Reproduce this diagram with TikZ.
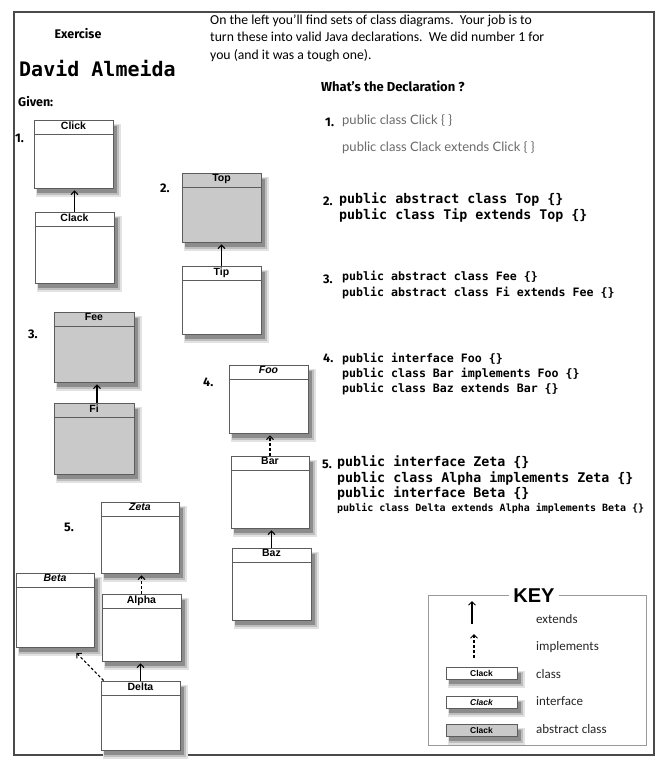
\documentclass[tikz,border=0pt]{standalone}
\usepackage{fontspec}
\setmainfont{Liberation Sans}
\newfontfamily\introfont{Carlito}
\newfontfamily\handfont{Fira Sans}
\newfontfamily\codefont{DejaVu Sans Mono}
\newfontfamily\grayfont{Lato}
\usetikzlibrary{arrows.meta}
\definecolor{framegray}{HTML}{4A4A4A}
\definecolor{boxgray}{HTML}{5C5C5C}
\definecolor{absfill}{HTML}{C9C9C9}
\definecolor{keygray}{HTML}{9A9A9A}
\definecolor{penGray}{HTML}{6A6A6A}
\definecolor{shadeA}{HTML}{E2E2E2}
\definecolor{shadeB}{HTML}{BEBEBE}
\definecolor{shadeC}{HTML}{8C8C8C}
\tikzset{
  shd/.style={draw=none, rectangle, inner sep=0pt, outer sep=0pt},
  cls/.style={draw=boxgray, line width=0.8pt, fill=white, rectangle, inner sep=0pt,
    path picture={\draw[boxgray, line width=0.6pt]
      ([yshift=-14.5pt]path picture bounding box.north west) --
      ([yshift=-14.5pt]path picture bounding box.north east);}},
  abs/.style={cls, fill=absfill},
  ttl/.style={label={[anchor=north, inner sep=0pt, yshift=-1.8pt, font=\fontsize{10.5}{12}\selectfont\bfseries]north:#1}},
  ittl/.style={label={[anchor=north, inner sep=0pt, yshift=-1.8pt, font=\fontsize{10.5}{12}\selectfont\bfseries\itshape]north:#1}},
  ext/.style={line width=1.2pt, -{Straight Barb[length=3.5pt,width=7pt,line width=1pt]}, shorten >=2pt},
  impl/.style={line width=1.1pt, dash pattern=on 2.8pt off 2.2pt, -{Straight Barb[length=3.5pt,width=7pt,line width=1pt]}, shorten >=2pt},
  num/.style={font=\handfont\bfseries\fontsize{12.5}{14}\selectfont, inner sep=0pt, anchor=west},
  code/.style={font=\codefont\bfseries\fontsize{13.3}{15}\selectfont, inner sep=0pt, anchor=west},
  codes/.style={font=\codefont\bfseries\fontsize{11.6}{13}\selectfont, inner sep=0pt, anchor=west},
  pen/.style={font=\grayfont\fontsize{13}{15}\selectfont, text=penGray, inner sep=0pt, anchor=west},
  intro/.style={font=\introfont\fontsize{13.7}{17.5}\selectfont, inner sep=0pt, anchor=north west, align=left},
  keytxt/.style={font=\introfont\fontsize{13}{15}\selectfont, text=black!85, inner sep=0pt, anchor=west},
  keybox/.style={draw=boxgray, line width=0.7pt, fill=white, rectangle, inner sep=0pt,
    font=\fontsize{8.5}{9}\selectfont\bfseries}
}
% #1 style, #2 name, #3 x, #4 y (centre, y down), #5 width, #6 height, #7 text
\newcommand\umlbox[7]{%
  \node[shd, fill=shadeA, minimum width=#5pt+5.5pt, minimum height=#6pt+4.5pt] (#2s1) at (#3+4.75,#4+6.25) {};
  \node[shd, fill=shadeB, minimum width=#5pt+3pt, minimum height=#6pt+1.5pt] (#2s2) at (#3+4,#4+5.75) {};
  \node[shd, fill=shadeC, minimum width=#5pt+0.5pt, minimum height=#6pt-1.5pt] (#2s3) at (#3+3.25,#4+5.25) {};
  \node[#1, minimum width=#5pt, minimum height=#6pt] (#2) at (#3,#4) {#7};
}
\begin{document}
\begin{tikzpicture}[x=1pt,y=-1pt]
\useasboundingbox (0,0) rectangle (668,763);
\fill[white] (0,0) rectangle (668,763);
% outer frame
\draw[framegray, line width=1.3pt] (14,12) rectangle (654,755);

% headings
\node[font=\handfont\bfseries\fontsize{12.5}{14}\selectfont, inner sep=0pt] (exercise) at (78,34) {Exercise};
\node[font=\codefont\bfseries\fontsize{20}{22}\selectfont, inner sep=0pt, anchor=west] (name) at (19,69) {David Almeida};
\node[font=\handfont\bfseries\fontsize{12.5}{14}\selectfont, inner sep=0pt, anchor=west] (given) at (18,102) {Given:};
\node[intro] (introtxt) at (210,14.5) {On the left you’ll find sets of class diagrams.\ \ Your job is to\\turn these into valid Java declarations.\ \ We did number 1 for\\you (and it was a tough one).};
\node[font=\handfont\bfseries\fontsize{13}{15}\selectfont, inner sep=0pt, anchor=west] (what) at (321,86) {What’s the Declaration ?};

% diagram numbers
\node[num] (n1) at (15,138) {1.};
\node[num] (n2) at (160,188) {2.};
\node[num] (n3) at (28,334) {3.};
\node[num] (n4) at (203,382) {4.};
\node[num] (n5) at (64,527) {5.};

% class boxes
\umlbox{cls, ttl=Click}{click}{73.5}{154}{79}{68}{}
\umlbox{cls, ttl=Clack}{clack}{74.5}{247.5}{79}{71}{}
\umlbox{abs, ttl=Top}{top}{221.5}{207.5}{79}{69}{}
\umlbox{cls, ttl=Tip}{tip}{221.5}{300}{79}{68}{}
\umlbox{abs, ttl=Fee}{fee}{94}{347}{80}{70}{}
\umlbox{abs, ttl=Fi}{fi}{94}{438.5}{80}{71}{}
\umlbox{cls, ittl=Foo}{foo}{268.5}{399}{79}{68}{}
\umlbox{cls, ttl=Bar}{bar}{270}{492}{78}{72}{}
\umlbox{cls, ttl=Baz}{baz}{271.5}{584}{79}{72}{}
\umlbox{cls, ittl=Zeta}{zeta}{140}{537.5}{78}{71}{}
\umlbox{cls, ittl=Beta}{beta}{55}{610}{78}{74}{}
\umlbox{cls, ttl=Alpha}{alpha}{141.5}{627.5}{79}{67}{}
\umlbox{cls, ttl=Delta}{delta}{140.5}{715.5}{79}{69}{}

% connectors
\draw[ext] (clack.north) -- (clack.north |- click.south);
\draw[ext] (tip.north) -- (tip.north |- top.south);
\draw[ext] ([xshift=3pt]fi.north) -- ([xshift=3pt]fi.north |- fee.south);
\draw[impl] (bar.north) -- (bar.north |- foo.south);
\draw[ext] (baz.north) -- (baz.north |- bar.south);
\draw[impl] (alpha.north) -- (alpha.north |- zeta.south);
\draw[ext] (delta.north) -- (delta.north |- alpha.south);
\draw[impl] ([xshift=3pt]delta.north west) -- ([xshift=20pt,yshift=-4pt]beta.south);

% declarations
\node[num] (d1) at (325,122) {1.};
\node[pen] (p1) at (342,121) {public class Click \{ \}};
\node[pen] (p2) at (342,148) {public class Clack extends Click \{ \}};

\node[num] (d2) at (323,201) {2.};
\node[code] (c21) at (339,199) {public abstract class Top \{\}};
\node[code] (c22) at (339,215) {public class Tip extends Top \{\}};

\node[num] (d3) at (323,279) {3.};
\node[codes] (c31) at (342,277) {public abstract class Fee \{\}};
\node[codes] (c32) at (342,293) {public abstract class Fi extends Fee \{\}};

\node[num] (d4) at (323,358) {4.};
\node[codes] (c41) at (342,359) {public interface Foo \{\}};
\node[codes] (c42) at (342,374) {public class Bar implements Foo \{\}};
\node[codes] (c43) at (342,389) {public class Baz extends Bar \{\}};

\node[num] (d5) at (322,464) {5.};
\node[code] (c51) at (337,462) {public interface Zeta \{\}};
\node[code] (c52) at (337,478) {public class Alpha implements Zeta \{\}};
\node[code] (c53) at (337,493) {public interface Beta \{\}};
\node[code, font=\codefont\bfseries\fontsize{10}{12}\selectfont] (c54) at (337,508) {public class Delta extends Alpha implements Beta \{\}};

% key
\node[font=\bfseries\fontsize{20}{22}\selectfont, inner sep=0pt] (key) at (534,596) {KEY};
\draw[keygray, line width=1pt] ([xshift=-4pt]key.west |- 0,595) -- (428,595) -- (428,745) -- (646,745) -- (646,595) -- ([xshift=4pt]key.east |- 0,595);
\coordinate (e1) at (472,624);
\coordinate (e2) at (472,601);
\draw[line width=1.2pt, -{Straight Barb[length=3.5pt,width=7pt,line width=1pt]}] (e1) -- (e2);
\coordinate (i1) at (474,658);
\coordinate (i2) at (474,634);
\draw[line width=1.1pt, dash pattern=on 2.8pt off 2.2pt, -{Straight Barb[length=3.5pt,width=7pt,line width=1pt]}] (i1) -- (i2);
\node[keytxt] (kext) at (536,619) {extends};
\node[keytxt] (kimp) at (536,647) {implements};
\umlbox{keybox}{kcls}{481.5}{673}{71}{12}{Clack}
\node[keytxt] (kclass) at (536,674) {class};
\umlbox{keybox, font=\fontsize{8.5}{9}\selectfont\bfseries\itshape}{kint}{481.5}{702}{71}{12}{Clack}
\node[keytxt] (kinterface) at (536,701) {interface};
\umlbox{keybox, fill=absfill}{kabs}{481.5}{730}{71}{12}{Clack}
\node[keytxt] (kabstract) at (536,729) {abstract class};
\end{tikzpicture}
\end{document}
